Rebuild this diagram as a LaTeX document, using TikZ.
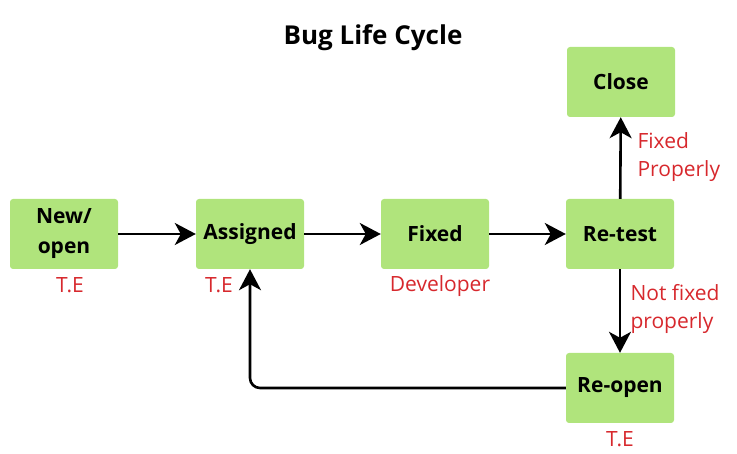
\documentclass[tikz,border=0pt]{standalone}
\usepackage{fontspec}
\setmainfont{Open Sans}
\usetikzlibrary{arrows.meta}
\definecolor{boxgreen}{RGB}{176,228,124}
\definecolor{labelred}{RGB}{215,40,45}
\tikzset{
    state/.style={fill=boxgreen, rounded corners=3pt, minimum width=108pt, minimum height=70pt, align=center, font=\bfseries\fontsize{21}{30}\selectfont},
    role/.style={text=labelred, font=\fontsize{21}{28}\selectfont},
    flow/.style={line width=2.6pt, -{Stealth[length=21pt, width=22pt, inset=6pt]}}
}

\begin{document}
\begin{tikzpicture}[x=1pt, y=-1pt]
    \useasboundingbox (0,0) rectangle (737,454);
    \node[font=\bfseries\fontsize{26}{30}\selectfont] (title) at (373,38) {Bug Life Cycle};

    \node[state] (new) at (64,234) {New/\\open};
    \node[state] (assigned) at (250,234) {Assigned};
    \node[state] (fixed) at (435,234) {Fixed};
    \node[state] (retest) at (620,234) {Re-test};
    \node[state] (close) at (621,82) {Close};
    \node[state] (reopen) at (620,388) {Re-open};

    \node[role] (te1) at (70,285) {T.E};
    \node[role] (te2) at (219,285) {T.E};
    \node[role] (dev) at (440,286) {Developer};
    \node[role] (te3) at (620,439) {T.E};
    \node[role, anchor=west, align=left] (ok) at (634,157) {Fixed\\Properly};
    \node[role, anchor=west, align=left] (notok) at (627,309) {Not fixed\\properly};

    \draw[flow] (new) -- (assigned);
    \draw[flow] (assigned) -- (fixed);
    \draw[flow] (fixed) -- (retest);
    \draw[flow] (retest) -- (close);
    \draw[flow] (retest) -- (reopen);
    \draw[flow, rounded corners=10pt] (reopen) -| (assigned);
\end{tikzpicture}
\end{document}
